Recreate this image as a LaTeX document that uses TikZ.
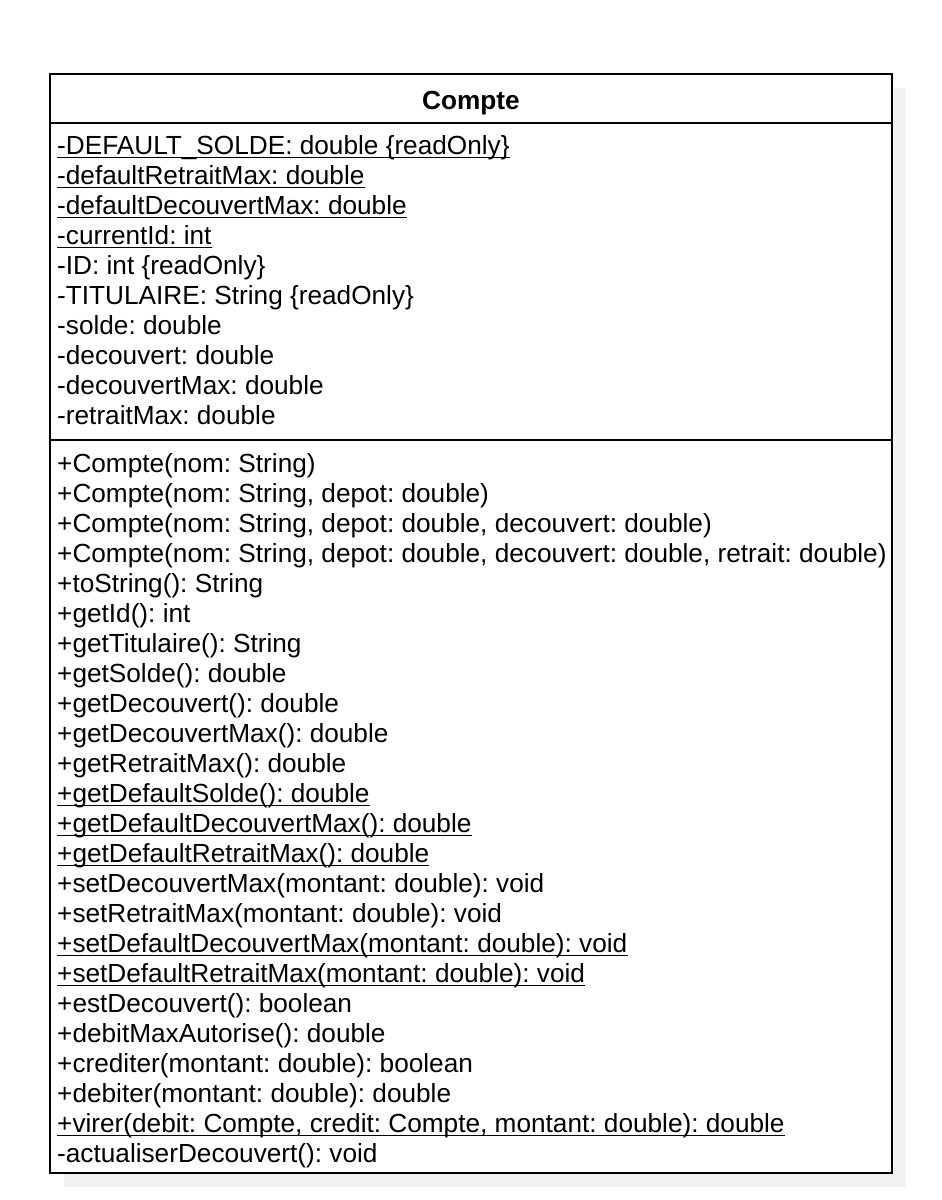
\documentclass[tikz,border=0pt]{standalone}
\usepackage{fontspec}
\setmainfont{Liberation Sans}
\definecolor{shadowgray}{HTML}{F2F2F2}
\begin{document}
\frenchspacing
\begin{tikzpicture}[x=1pt,y=-1pt,
  txt/.style={anchor=base west, inner sep=0pt, font=\fontsize{26.2}{30}\selectfont\frenchspacing},
  ttl/.style={anchor=base, inner sep=0pt, font=\fontsize{26.2}{30}\selectfont\bfseries},
  border/.style={draw=black, line width=2.5pt},
  uline/.style={line width=1.6pt}]
\useasboundingbox (0,0) rectangle (942,1200);
% shadow
\fill[shadowgray] (64,88) rectangle (906,1187);
% box
\filldraw[fill=white, border] (50,74) rectangle (892,1173);
\draw[border] (50,123) -- (892,123);
\draw[border] (50,440) -- (892,440);
% title
\node[ttl] (title) at (471,109) {Compte};
% attributes
\node[txt] (a0) at (57,154) {-DEFAULT\_SOLDE: double \{readOnly\}};
\node[txt] (a1) at (57,184) {-defaultRetraitMax: double};
\node[txt] (a2) at (57,214) {-defaultDecouvertMax: double};
\node[txt] (a3) at (57,244) {-currentId: int};
\node[txt] (a4) at (57,274) {-ID: int \{readOnly\}};
\node[txt] (a5) at (57,304) {-TITULAIRE: String \{readOnly\}};
\node[txt] (a6) at (57,334) {-solde: double};
\node[txt] (a7) at (57,364) {-decouvert: double};
\node[txt] (a8) at (57,394) {-decouvertMax: double};
\node[txt] (a9) at (57,424) {-retraitMax: double};
% methods
\node[txt] (m0) at (57,472) {+Compte(nom: String)};
\node[txt] (m1) at (57,502) {+Compte(nom: String, depot: double)};
\node[txt] (m2) at (57,532) {+Compte(nom: String, depot: double, decouvert: double)};
\node[txt] (m3) at (57,562) {+Compte(nom: String, depot: double, decouvert: double, retrait: double)};
\node[txt] (m4) at (57,592) {+toString(): String};
\node[txt] (m5) at (57,622) {+getId(): int};
\node[txt] (m6) at (57,652) {+getTitulaire(): String};
\node[txt] (m7) at (57,682) {+getSolde(): double};
\node[txt] (m8) at (57,712) {+getDecouvert(): double};
\node[txt] (m9) at (57,742) {+getDecouvertMax(): double};
\node[txt] (m10) at (57,772) {+getRetraitMax(): double};
\node[txt] (m11) at (57,802) {+getDefaultSolde(): double};
\node[txt] (m12) at (57,832) {+getDefaultDecouvertMax(): double};
\node[txt] (m13) at (57,862) {+getDefaultRetraitMax(): double};
\node[txt] (m14) at (57,892) {+setDecouvertMax(montant: double): void};
\node[txt] (m15) at (57,922) {+setRetraitMax(montant: double): void};
\node[txt] (m16) at (57,952) {+setDefaultDecouvertMax(montant: double): void};
\node[txt] (m17) at (57,982) {+setDefaultRetraitMax(montant: double): void};
\node[txt] (m18) at (57,1012) {+estDecouvert(): boolean};
\node[txt] (m19) at (57,1042) {+debitMaxAutorise(): double};
\node[txt] (m20) at (57,1072) {+crediter(montant: double): boolean};
\node[txt] (m21) at (57,1102) {+debiter(montant: double): double};
\node[txt] (m22) at (57,1132) {+virer(debit: Compte, credit: Compte, montant: double): double};
\node[txt] (m23) at (57,1162) {-actualiserDecouvert(): void};
% underlines for static members
\foreach \n in {a0,a1,a2,a3,m11,m12,m13,m16,m17,m22}
  \draw[uline] ([yshift=-3.5pt]\n.base west) -- ([yshift=-3.5pt]\n.base east);
\end{tikzpicture}
\end{document}
